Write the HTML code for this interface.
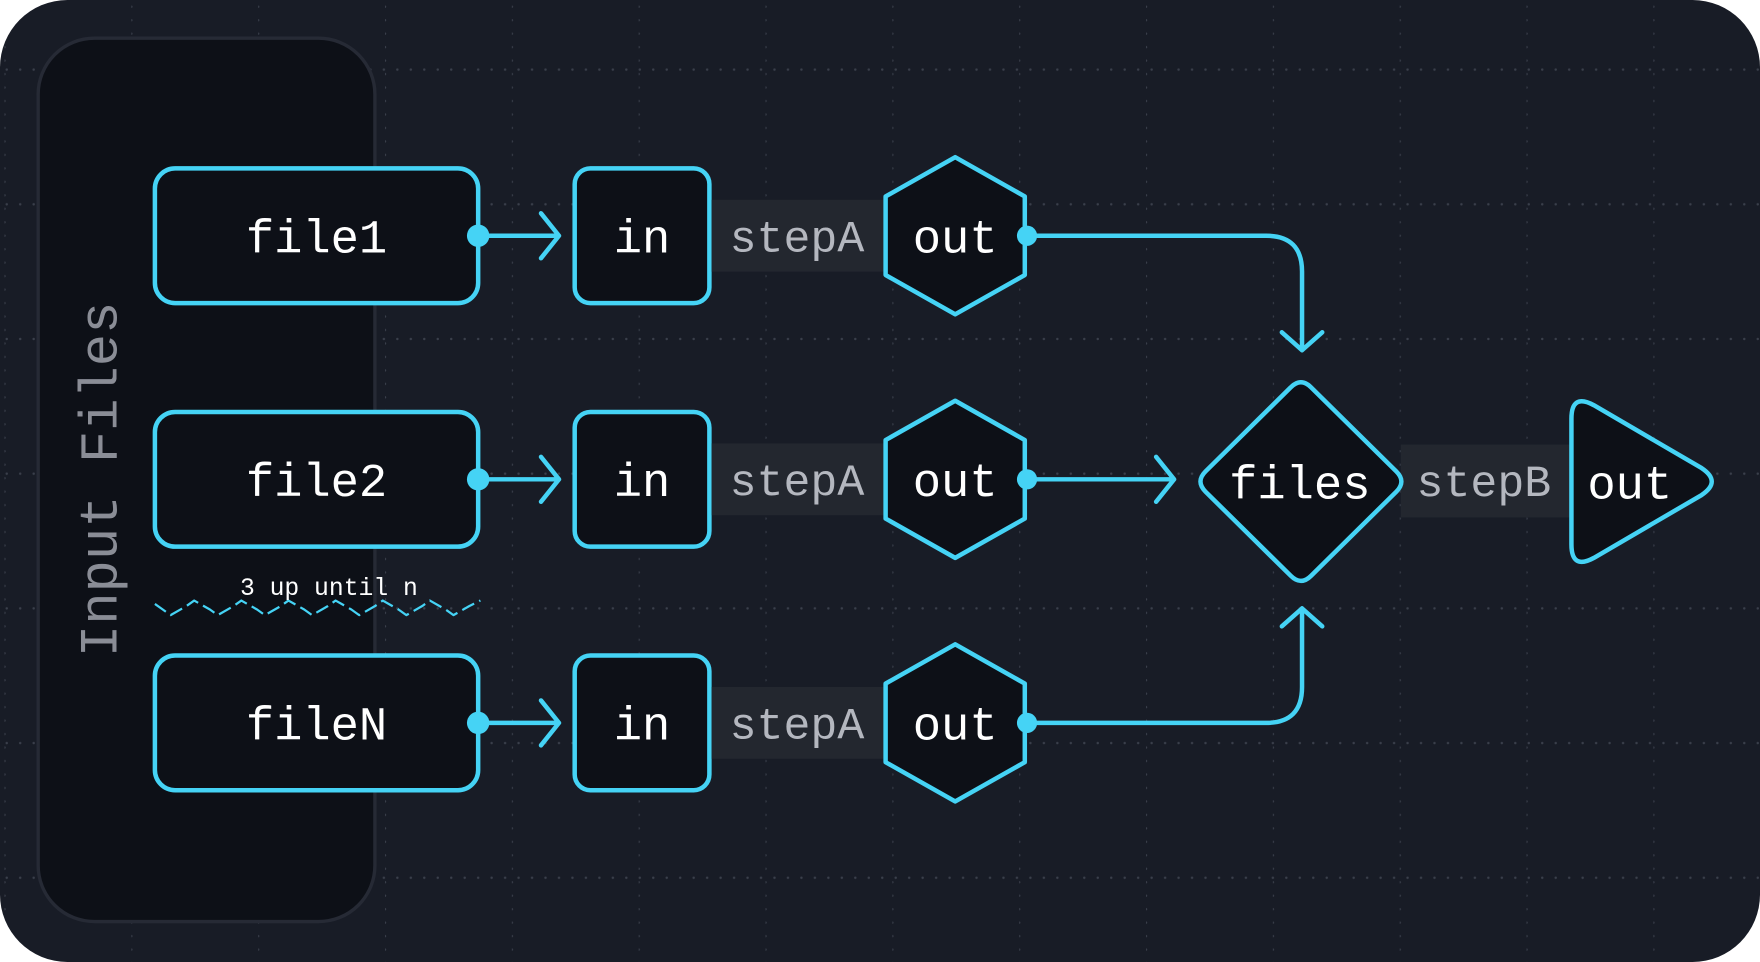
<!DOCTYPE html>
<html><head><meta charset="utf-8"><style>
html,body{margin:0;padding:0;background:#fff;}
svg{display:block;}
text{font-family:"Liberation Mono","DejaVu Sans Mono",monospace;}
</style></head><body>
<svg width="1760" height="962" viewBox="0 0 1568 857" xmlns="http://www.w3.org/2000/svg">
<defs>
<pattern id="hd" width="12" height="120" patternUnits="userSpaceOnUse" x="0" y="2">
<circle cx="6" cy="60" r="1.1" fill="#3a3f4b"/>
</pattern>
<pattern id="vd" width="113" height="12" patternUnits="userSpaceOnUse" x="4" y="0">
<circle cx="0" cy="6" r="1.1" fill="#3a3f4b"/>
</pattern>
<clipPath id="bg"><rect x="0" y="0" width="1568" height="857" rx="60"/></clipPath>
</defs>
<rect x="0" y="0" width="1568" height="857" rx="60" fill="#181c26"/>
<g clip-path="url(#bg)">
<rect x="0" y="0" width="1568" height="857" fill="url(#hd)"/>
<rect x="0" y="0" width="1568" height="857" fill="url(#vd)"/>
</g>
<rect x="34" y="34" width="300" height="787" rx="50" fill="#0d1017" stroke="#262a35" stroke-width="3"/>
<text x="0" y="0" transform="translate(104,427) rotate(-90)" text-anchor="middle" font-size="48" fill="#8a8d96">Input Files</text>

<g stroke="#45d3f5" stroke-width="4" fill="#0d1017" stroke-linejoin="round" stroke-linecap="round">
<rect x="138" y="150" width="288" height="120" rx="18"/>
<rect x="138" y="367" width="288" height="120" rx="18"/>
<rect x="138" y="584" width="288" height="120" rx="18"/>
<rect x="512" y="150" width="120" height="120" rx="14"/>
<rect x="512" y="367" width="120" height="120" rx="14"/>
<rect x="512" y="584" width="120" height="120" rx="14"/>
</g>
<g fill="#23272f">
<rect x="634" y="178" width="156" height="64"/>
<rect x="634" y="395" width="156" height="64"/>
<rect x="634" y="612" width="156" height="64"/>
<rect x="1248" y="396" width="152" height="65"/>
</g>
<g stroke="#45d3f5" stroke-width="4" fill="#0d1017" stroke-linejoin="round" stroke-linecap="round">
<path d="M851 140 L913 175 L913 245 L851 280 L789 245 L789 175 Z"/>
<path d="M851 357 L913 392 L913 462 L851 497 L789 462 L789 392 Z"/>
<path d="M851 574 L913 609 L913 679 L851 714 L789 679 L789 609 Z"/>
<path d="M1150 345 Q1159 336 1168 345 L1244 420 Q1253 429 1244 438 L1168 513 Q1159 522 1150 513 L1074 438 Q1065 429 1074 420 Z"/>
<path d="M1400 373 Q1400 350 1420 361 L1516 417 Q1534 429 1516 441 L1420 497 Q1400 508 1400 485 Z"/>
</g>
<g stroke="#45d3f5" stroke-width="4" fill="none" stroke-linecap="round" stroke-linejoin="round">
<path d="M426 210 H498 M482 190 L498 210 L482 230"/>
<path d="M426 427 H498 M482 407 L498 427 L482 447"/>
<path d="M426 644 H498 M482 624 L498 644 L482 664"/>
<path d="M915 210 H1128 Q1160 210 1160 242 V312 M1142 296 L1160 312 L1178 296"/>
<path d="M915 427 H1046 M1030 407 L1046 427 L1030 447"/>
<path d="M915 644 H1128 Q1160 644 1160 612 V542 M1142 558 L1160 542 L1178 558"/>
<path stroke-width="2" stroke-dasharray="12 5" stroke-linecap="butt" d="M138 538 L145 543 L152 548 L166 540 L173 535 L187 543 L194 548 L208 540 L215 535 L229 543 L236 548 L250 540 L257 535 L271 543 L278 548 L292 540 L299 535 L313 543 L320 548 L334 540 L341 535 L355 543 L362 548 L376 540 L383 535 L397 543 L404 548 L418 540 L428 535"/>
</g>
<g fill="#45d3f5">
<circle cx="426" cy="210" r="10"/><circle cx="426" cy="427" r="10"/><circle cx="426" cy="644" r="10"/>
<circle cx="915" cy="210" r="9"/><circle cx="915" cy="427" r="9"/><circle cx="915" cy="644" r="9"/>
</g>
<g font-size="42" fill="#ffffff" text-anchor="middle">
<text x="282" y="225">file1</text>
<text x="282" y="442">file2</text>
<text x="282" y="659">fileN</text>
<text x="572" y="225">in</text>
<text x="572" y="442">in</text>
<text x="572" y="659">in</text>
<text x="851" y="225">out</text>
<text x="851" y="442">out</text>
<text x="851" y="659">out</text>
<text x="1158" y="444">files</text>
<text x="1452" y="444">out</text>
</g>
<g font-size="40" fill="#b4b7bf" text-anchor="middle">
<text x="710" y="224">stepA</text>
<text x="710" y="441">stepA</text>
<text x="710" y="658">stepA</text>
<text x="1322" y="442">stepB</text>
</g>
<text x="293" y="530" font-size="22" fill="#ffffff" text-anchor="middle">3 up until n</text>
</svg>
</body></html>
